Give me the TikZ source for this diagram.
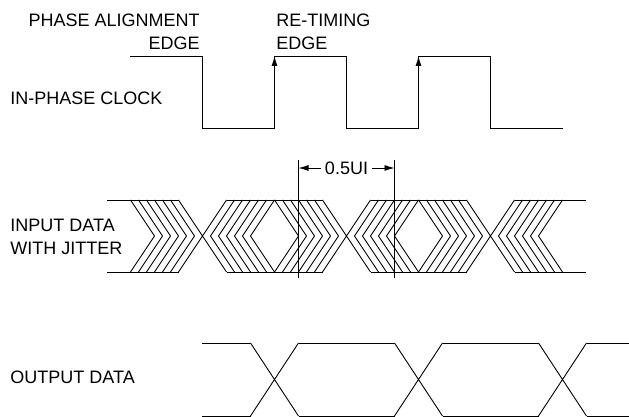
\documentclass[tikz,border=0pt]{standalone}
\usepackage{fontspec}
\setmainfont{Liberation Sans}
\usetikzlibrary{arrows.meta}

\tikzset{
  label/.style={inner sep=0pt,font=\fontsize{18}{20}\selectfont},
  tip/.style={-{Latex[length=10pt,width=6pt]}}
}

\begin{document}
\begin{tikzpicture}[x=1pt,y=1pt,line width=0.9pt]

      \useasboundingbox (0,0) rectangle (629,417);

      \begin{scope}[every node/.style={label}]
        \node[anchor=base east] (align)  at (200,390) {PHASE ALIGNMENT};
        \node[anchor=base east] (alignb) at (200,367) {EDGE};
        \node[anchor=base west] (retime)  at (276,390) {RE-TIMING};
        \node[anchor=base west] (retimeb) at (276,367) {EDGE};
        \node[anchor=base west] (clock) at (10,312) {IN-PHASE CLOCK};
        \node[anchor=base west] (input)  at (10,185) {INPUT DATA};
        \node[anchor=base west] (inputb) at (10,162) {WITH JITTER};
        \node[anchor=base west] (output) at (10,33.5) {OUTPUT DATA};
      \end{scope}

      \draw (130,361) -- (202.5,361) -- (202.5,289) -- (274.5,289) -- (274.5,361)
        -- (346.5,361) -- (346.5,289) -- (418.5,289) -- (418.5,361)
        -- (490.5,361) -- (490.5,289) -- (562.5,289);
      \foreach \x in {274.5,418.5}
        \draw[tip] (\x,300) -- (\x,361);

      \foreach \c in {202.5,346.5,490.5} {
        \draw (\c-24,217) -- (\c+24,145) (\c-24,145) -- (\c+24,217);
        \foreach \k in {1,...,6} {
          \draw (\c-8*\k-24,217) -- (\c-8*\k,181) -- (\c-8*\k-24,145);
          \draw (\c+8*\k+24,217) -- (\c+8*\k,181) -- (\c+8*\k+24,145);
        }
      }
      \foreach \y in {217,145}
        \draw (107,\y) -- (178.5,\y) (226.5,\y) -- (322.5,\y)
          (370.5,\y) -- (466.5,\y) (514.5,\y) -- (586,\y);

      \coordinate (lefttop) at (298.5,257);
      \coordinate (leftbot) at (298.5,139);
      \coordinate (righttop) at (394.5,257);
      \coordinate (rightbot) at (394.5,139);
      \draw (lefttop) -- (leftbot) (righttop) -- (rightbot);
      \node[label,inner sep=4pt] (ui) at (346.5,249) {0.5UI};
      \draw[tip] (ui.west) -- (ui.west -| lefttop);
      \draw[tip] (ui.east) -- (ui.east -| righttop);

      \foreach \c in {274.5,418.5,562.5}
        \draw (\c-24,74) -- (\c+24,1) (\c-24,1) -- (\c+24,74);
      \foreach \y in {74,1}
        \draw (202,\y) -- (250.5,\y) (298.5,\y) -- (394.5,\y)
          (442.5,\y) -- (538.5,\y) (586.5,\y) -- (629,\y);

    \end{tikzpicture}
\end{document}
